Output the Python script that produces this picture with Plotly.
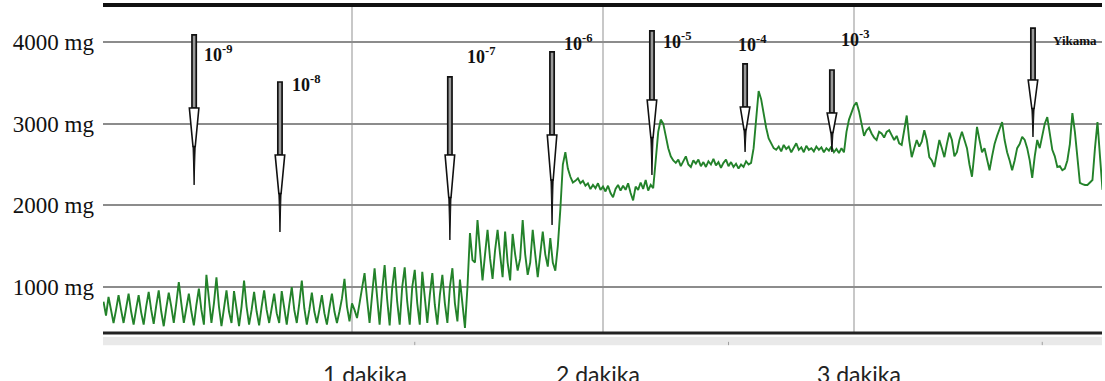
import numpy as np
import plotly.graph_objects as go

# ---------------- data (read from the recording) ----------------
SAMPLE_INTERVAL_MIN = 0.01  # one reading every 0.6 s

# 0 - 1 min : spontaneous baseline contractions (mg)
baseline = [820, 650, 880, 700, 560, 720, 900, 720, 560, 740,
            920, 700, 540, 730, 900, 690, 540, 760, 940, 720,
            550, 770, 960, 700, 520, 740, 930, 760, 560, 800,
            1060, 800, 560, 740, 920, 700, 530, 780, 980, 720,
            540, 1150, 820, 560, 800, 1120, 760, 520, 740, 960,
            700, 560, 950, 700, 520, 760, 1080, 760, 540, 720,
            940, 700, 530, 760, 960, 720, 560, 740, 920, 680,
            560, 950, 720, 540, 780, 1000, 720, 560, 800, 1080,
            740, 540, 720, 930, 700, 560, 720, 900, 680, 540,
            740, 920, 700, 560, 700, 860, 1100, 760, 580, 800]

phase_b = [720, 620, 800, 1000, 1170, 850, 560, 900, 1230, 880,
           540, 950, 1270, 850, 530, 980, 1245, 820, 540, 1000,
           1240, 820, 540, 1000, 1210, 800, 540, 1185, 820, 560,
           900, 1170, 780, 540, 900, 1150, 800, 560, 1000, 1230,
           800, 580, 1090, 800, 500, 1000]

phase_c = [1660, 1330, 1300, 1820, 1450, 1080, 1400, 1700, 1350, 1100,
           1450, 1700, 1400, 1120, 1680, 1300, 1080, 1650, 1400, 1200,
           1350, 1820, 1400, 1150, 1300, 1700, 1400, 1120, 1400, 1680,
           1400, 1250, 1600, 1300, 1200, 1500, 1950, 2500, 2650, 2450,
           2350, 2280]

phase_d = [2300, 2330, 2270, 2300, 2240, 2270, 2200, 2250, 2210, 2270,
           2190, 2230, 2170, 2240, 2150, 2100, 2200, 2250, 2180, 2240,
           2190, 2270, 2150, 2060, 2230, 2190, 2280, 2200, 2310, 2180,
           2250, 2210, 2550, 2900, 3050, 3000, 2850, 2700, 2600, 2550]

phase_e = [2520, 2560, 2480, 2540, 2600, 2500, 2470, 2550, 2510, 2560,
           2480, 2530, 2470, 2540, 2500, 2570, 2490, 2530, 2460, 2520,
           2560, 2480, 2530, 2470, 2510, 2450, 2500, 2470, 2540, 2500,
           2520, 2700, 3100, 3400, 3300, 3100, 2950, 2820, 2750, 2700,
           2680]

phase_f = [2720, 2660, 2740, 2690, 2720, 2650, 2700, 2760, 2680, 2710,
           2650, 2730, 2680, 2700, 2660, 2720, 2680, 2710, 2650, 2700,
           2670, 2720, 2650, 2690, 2640, 2700, 2650, 2900, 3050, 3150,
           3220, 3260]

phase_g = [3150, 3000, 2850, 2920, 2950, 2880, 2830, 2800, 2900, 2880,
           2830, 2900, 2920, 2860, 2800, 2850, 2760, 2740, 2950, 3100,
           2800, 2590, 2700, 2800, 2720, 2780, 2920, 2800, 2590, 2550,
           2470, 2650, 2800, 2700, 2590, 2750, 2890, 2800, 2600, 2650,
           2800, 2900, 2800, 2700, 2500, 2350, 2650, 2960, 2800, 2650,
           2700, 2550, 2430, 2600, 2750, 2850, 2950, 3020, 2800, 2650,
           2550, 2430, 2550, 2700, 2750, 2840, 2800, 2700, 2550, 2335,
           2600, 2800, 2700, 2850, 3000, 3080, 2850, 2680, 2600, 2470,
           2480, 2430, 2450, 2550, 2750, 3130, 2900, 2600, 2275, 2260,
           2250, 2250, 2280, 2310, 2700, 3020, 2600, 2190]

# dose additions (time in min)
dose_labels = ["10<sup>-9</sup>", "10<sup>-8</sup>", "10<sup>-7</sup>", "10<sup>-6</sup>",
               "10<sup>-5</sup>", "10<sup>-4</sup>", "10<sup>-3</sup>", "Yikama"]
dose_times = [0.371, 0.713, 1.390, 1.797, 2.195, 2.566, 2.912, 3.713]

y_ticks = [1000, 2000, 3000, 4000]
y_tick_labels = ["1000 mg", "2000 mg", "3000 mg", "4000 mg"]
x_minutes = [1, 2, 3]
x_minute_labels = ["1 dakika", "2 dakika", "3 dakika"]

# ---------------- figure ----------------
tension = baseline + phase_b + phase_c + phase_d + phase_e + phase_f + phase_g
time_min = (np.arange(len(tension)) + 1) * SAMPLE_INTERVAL_MIN

fig = go.Figure()
fig.add_trace(go.Scatter(x=time_min, y=tension, mode="lines",
                         line=dict(color="#23822a", width=1.9),
                         hoverinfo="skip"))

# arrow geometry: (top, head start, tip) in mg, and label anchors
arrow_geom = [(4086, 3192, 2250), (3510, 2617, 1674), (3572, 2617, 1576),
              (3878, 2862, 1760), (4135, 3290, 2372), (3731, 3204, 2654),
              (3657, 3131, 2654), (4171, 3535, 2837)]
label_anchor = [(0.404, 3865), (0.751, 3486), (1.450, 3829), (1.835, 3988),
                (2.233, 4024), (2.530, 3976), (2.942, 4049), (3.785, 4024)]

shapes = []
annotations = []
SHAFT_HW = 0.0085
HEAD_HW = 0.019
NECK_HW = 0.0045
for i, (t, (top, head, tip), (lx, ly), lab) in enumerate(
        zip(dose_times, arrow_geom, label_anchor, dose_labels)):
    mid = head - 0.5 * (head - tip)
    shapes.append(dict(type="rect", xref="x", yref="y", x0=t - SHAFT_HW, x1=t + SHAFT_HW,
                       y0=head, y1=top, fillcolor="#9a9a9a",
                       line=dict(color="#111", width=1.7), layer="above"))
    shapes.append(dict(type="path", xref="x", yref="y",
                       path=(f"M {t - HEAD_HW},{head} L {t + HEAD_HW},{head} "
                             f"L {t + NECK_HW},{mid} L {t - NECK_HW},{mid} Z"),
                       fillcolor="white", line=dict(color="#111", width=1.6), layer="above"))
    shapes.append(dict(type="path", xref="x", yref="y",
                       path=f"M {t - NECK_HW},{mid} L {t + NECK_HW},{mid} L {t},{tip} Z",
                       fillcolor="#111", line=dict(color="#111", width=1), layer="above"))
    is_word = not lab.startswith("10")
    annotations.append(dict(x=lx, y=ly, xref="x", yref="y", text=lab, showarrow=False,
                            xanchor="left", yanchor="middle",
                            font=dict(family="Liberation Serif", size=13 if is_word else 18,
                                      color="#111", weight="bold")))

# frame lines and scrollbar band
shapes += [
    dict(type="line", xref="paper", yref="paper", x0=0, x1=1, y0=1, y1=1,
         line=dict(color="#111", width=4), layer="above"),
    dict(type="line", xref="paper", yref="paper", x0=0, x1=1, y0=0, y1=0,
         line=dict(color="#222", width=3), layer="above"),
    dict(type="rect", xref="paper", yref="paper", x0=0, x1=1, y0=-0.037, y1=-0.0125,
         fillcolor="#e9e9e9", line=dict(width=0)),
]
for tt in [1.25, 2.5, 3.75]:
    shapes.append(dict(type="line", xref="x", yref="paper", x0=tt, x1=tt, y0=-0.037, y1=-0.027,
                       line=dict(color="#a0a0a0", width=1)))

label_times = [1.05, 1.98, 3.02]
for lt, lab in zip(label_times, x_minute_labels):
    annotations.append(dict(x=lt, y=-0.075, xref="x", yref="paper", text=lab, showarrow=False,
                            xanchor="center", yanchor="top",
                            font=dict(family="Lato", size=23, color="#222")))

fig.update_layout(
    width=1105, height=381,
    margin=dict(l=103, r=3, t=5, b=48),
    paper_bgcolor="white", plot_bgcolor="white",
    showlegend=False,
    shapes=shapes, annotations=annotations,
    xaxis=dict(range=[0.008, 3.988], tickvals=x_minutes, showticklabels=False,
               showgrid=True, gridcolor="#c8c8c8", gridwidth=1.5,
               zeroline=False, showline=False, ticks=""),
    yaxis=dict(range=[437, 4453], tickvals=y_ticks, ticktext=y_tick_labels,
               showgrid=True, gridcolor="#8c8c8c", gridwidth=2,
               zeroline=False, showline=False, ticks="", ticklabelstandoff=8,
               tickfont=dict(family="Liberation Serif", size=23, color="#111")),
)

fig.write_html("out.html", config={"displayModeBar": False})
